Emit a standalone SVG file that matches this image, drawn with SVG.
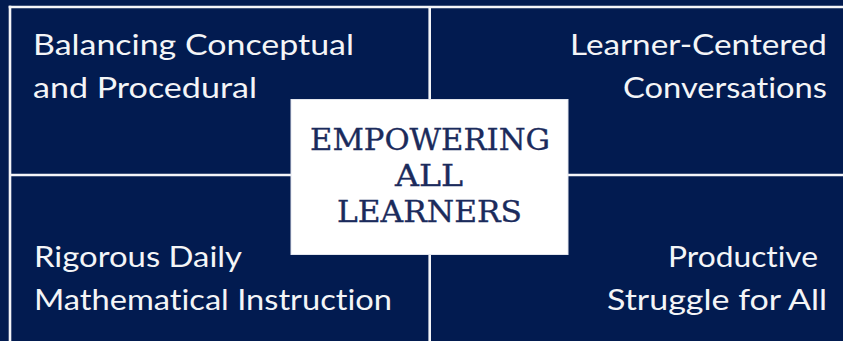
<svg xmlns="http://www.w3.org/2000/svg" width="843" height="341" viewBox="0 0 843 341">
<style>
.bg{fill:#021b50}
.ln{stroke:#f4f5f8;stroke-width:2.6;fill:none}
.q{font-family:"Lato","Open Sans","Liberation Sans",sans-serif;font-size:28px;fill:#f4f5f7;font-variant-ligatures:none;font-feature-settings:"liga" 0,"dlig" 0}
.c{font-family:"DejaVu Serif","Liberation Serif",serif;font-size:30px;fill:#1b2b5c;stroke:#1b2b5c;stroke-width:0.35}
</style>
<rect class="bg" x="0" y="0" width="843" height="341"/>
<g id="connectors">
<line class="ln" x1="8.7" y1="7" x2="843" y2="7"/>
<line class="ln" x1="10" y1="5.7" x2="10" y2="341"/>
<line class="ln" x1="429.7" y1="7" x2="429.7" y2="341"/>
<line class="ln" x1="10" y1="175" x2="843" y2="175"/>
</g>
<g id="q-top-left">
<text class="q" x="33" y="55" textLength="321" lengthAdjust="spacingAndGlyphs">Balancing Conceptual</text>
<text class="q" x="33" y="98" textLength="224" lengthAdjust="spacingAndGlyphs">and Procedural</text>
</g>
<g id="q-top-right">
<text class="q" x="570" y="55" textLength="257" lengthAdjust="spacingAndGlyphs">Learner-Centered</text>
<text class="q" x="623" y="98" textLength="204" lengthAdjust="spacingAndGlyphs">Conversations</text>
</g>
<g id="q-bottom-left">
<text class="q" x="34" y="267" textLength="208" lengthAdjust="spacingAndGlyphs">Rigorous Daily</text>
<text class="q" x="34" y="310" textLength="358" lengthAdjust="spacingAndGlyphs">Mathematical Instruction</text>
</g>
<g id="q-bottom-right">
<text class="q" x="668" y="267" textLength="150" lengthAdjust="spacingAndGlyphs">Productive</text>
<text class="q" x="607" y="310" textLength="220" lengthAdjust="spacingAndGlyphs">Struggle for All</text>
</g>
<g id="center">
<rect x="291" y="99.5" width="277" height="155" fill="#ffffff" stroke="#e3e6ee" stroke-width="1"/>
<text class="c" x="310" y="149.5" textLength="240" lengthAdjust="spacingAndGlyphs">EMPOWERING</text>
<text class="c" x="395" y="186" textLength="68" lengthAdjust="spacingAndGlyphs">ALL</text>
<text class="c" x="337" y="222" textLength="185" lengthAdjust="spacingAndGlyphs">LEARNERS</text>
</g>
</svg>
